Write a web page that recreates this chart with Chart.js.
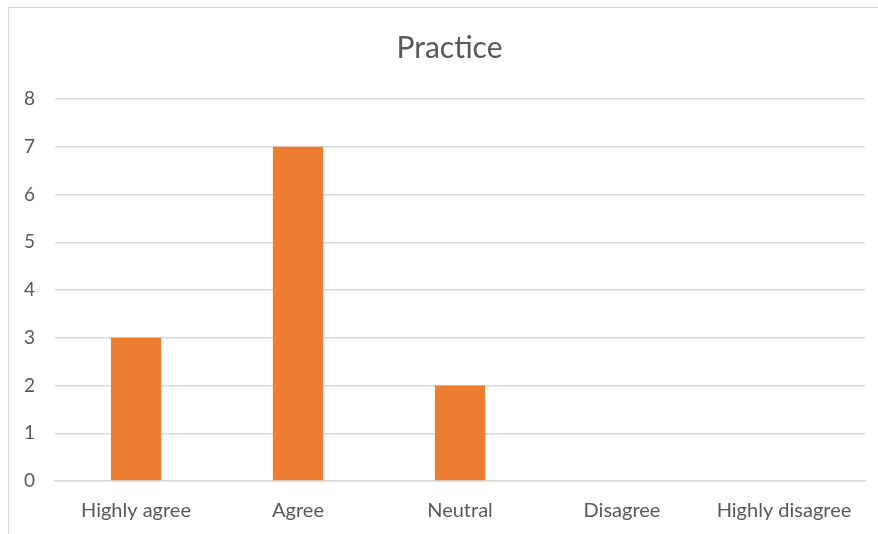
<!DOCTYPE html>
<html>
<head>
<meta charset="utf-8">
<script src="https://cdn.jsdelivr.net/npm/chart.js@4"></script>
<style>
  html, body { margin: 0; padding: 0; background: #fff; overflow: hidden; }
  #wrap { position: relative; width: 878px; height: 534px; }
  #frame { position: absolute; left: 8px; top: 7px; width: 880px; height: 540px; border: 1px solid #d9d9d9; box-sizing: border-box; }
  canvas { position: absolute; left: 0; top: 0; }
</style>
</head>
<body>
<div id="wrap">
  <div id="frame"></div>
  <canvas id="practiceChart" width="878" height="534"></canvas>
</div>
<script>
// Practice responses
var categories = ['Highly agree', 'Agree', 'Neutral', 'Disagree', 'Highly disagree'];
var counts = [3, 7, 2, 0, 0];
var yTicks = [0, 1, 2, 3, 4, 5, 6, 7, 8];

var textColor = '#595959';
var fontFamily = 'Lato, "Open Sans", "Liberation Sans", sans-serif';

var ctx = document.getElementById('practiceChart').getContext('2d');
var chart = new Chart(ctx, {
  type: 'bar',
  data: {
    labels: categories,
    datasets: [{
      label: 'Practice',
      data: counts,
      backgroundColor: '#ED7D31',
      borderWidth: 0,
      barPercentage: 0.31,
      categoryPercentage: 1
    }]
  },
  options: {
    responsive: false,
    animation: false,
    // left padding keeps the title centred over the frame like the original
    layout: { padding: { left: 34, right: 13, top: 0, bottom: 0 } },
    scales: {
      y: {
        min: 0,
        max: 8,
        afterBuildTicks: function (scale) {
          scale.ticks = yTicks.map(v => ({ value: v }));
        },
        afterFit: function (scale) { scale.width = 21; },
        border: { display: false },
        grid: { color: '#d9d9d9', lineWidth: 1.5, drawTicks: false },
        // mirrored labels are not clipped, negative padding pulls them back left
        ticks: { color: textColor, mirror: true, padding: -31, font: { family: fontFamily, size: 19 } }
      },
      x: {
        afterFit: function (scale) { scale.height = 53; },
        border: { display: true, color: '#d9d9d9', width: 1.5 },
        grid: { display: false, drawTicks: false },
        ticks: { color: textColor, padding: 18, maxRotation: 0, font: { family: fontFamily, size: 20 } }
      }
    },
    plugins: {
      legend: { display: false },
      tooltip: { enabled: false },
      title: {
        display: true,
        text: 'Practice',
        color: textColor,
        font: { family: fontFamily, size: 30, weight: 'normal' },
        padding: { top: 30, bottom: 33 }
      }
    }
  }
});
</script>
</body>
</html>
